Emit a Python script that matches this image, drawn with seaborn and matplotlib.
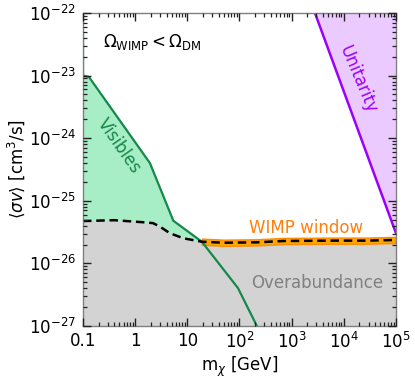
import numpy as np
import pandas as pd
import matplotlib
matplotlib.use("Agg")
import matplotlib.pyplot as plt
import matplotlib.ticker as mticker
import seaborn as sns

# ---- data ----
vis_m = [0.1, 0.1, 0.13, 1.92, 5.4, 19.0, 93.5, 216.0]
vis_sv = [4.5e-23, 1.0e-23, 9.5e-24, 4.0e-25, 4.8e-26, 2.22e-26, 4.05e-27, 1.0e-27]

relic_m = [0.1, 0.4, 1.4, 2.2, 3.0, 4.65, 8.4, 19.0, 50.0, 214.0, 690.0, 6300.0, 27000.0, 1e5]
relic_sv = [4.75e-26, 4.9e-26, 4.55e-26, 4.4e-26, 3.86e-26, 3.03e-26, 2.52e-26,
            2.22e-26, 2.14e-26, 2.17e-26, 2.28e-26, 2.31e-26, 2.31e-26, 2.37e-26]

unit_m = [2800.0, 1e5]
unit_sv = [1e-22, 3.06e-26]

wimp_start = 19.0
band_factor = 1.12

x_ticks = [0.1, 1, 10, 1e2, 1e3, 1e4, 1e5]
x_ticklabels = ["0.1", "1", "10", r"$10^2$", r"$10^3$", r"$10^4$", r"$10^5$"]
y_ticks = [1e-27, 1e-26, 1e-25, 1e-24, 1e-23, 1e-22]
y_ticklabels = [r"$10^{-27}$", r"$10^{-26}$", r"$10^{-25}$", r"$10^{-24}$", r"$10^{-23}$", r"$10^{-22}$"]

# ---- style (plain matplotlib defaults, seaborn for drawing) ----
plt.rcParams.update({
    "font.family": ["DejaVu Sans"],
    "mathtext.fontset": "dejavusans",
    "xtick.direction": "in", "ytick.direction": "in",
    "xtick.top": True, "ytick.right": True,
    "xtick.major.size": 6, "ytick.major.size": 6,
    "xtick.minor.size": 3, "ytick.minor.size": 3,
    "xtick.major.width": 1.0, "ytick.major.width": 1.0,
    "xtick.minor.width": 0.9, "ytick.minor.width": 0.9,
    "xtick.color": "#222222", "ytick.color": "#222222",
    "xtick.labelcolor": "black", "ytick.labelcolor": "black",
    "xtick.labelsize": 12, "ytick.labelsize": 12,
    "xtick.major.pad": 4, "ytick.major.pad": 5,
    "axes.axisbelow": False,
})

fig = plt.figure(figsize=(4.15, 3.8), dpi=100)
ax = fig.add_axes([0.2, 0.142, 0.754, 0.824])
ax.set_xscale("log")
ax.set_yscale("log")

green_line = "#15884a"
green_fill = "#a7edc5"
purple_line = "#9a00ff"
purple_fill = "#ebcbff"
orange_fill = "#ffa500"
orange_edge = "#ff8c00"
orange_text = "#ff7f0e"

vis = pd.DataFrame({"m": vis_m, "sv": vis_sv})
relic = pd.DataFrame({"m": relic_m, "sv": relic_sv})
unit = pd.DataFrame({"m": unit_m, "sv": unit_sv})

ax.fill_between(vis["m"], vis["sv"], 1e-27, color=green_fill, lw=0, zorder=1)
ax.fill_between(relic["m"], relic["sv"], 1e-27, color="#d3d3d3", lw=0, zorder=1.1)
ax.fill_between(unit["m"], unit["sv"], 1e-22, color=purple_fill, lw=0, zorder=1)

w = relic[relic["m"] >= wimp_start]
ax.fill_between(w["m"], w["sv"] / band_factor, w["sv"] * band_factor,
                facecolor=orange_fill, edgecolor=orange_edge, lw=1.0, zorder=1.2)

sns.lineplot(data=vis, x="m", y="sv", sort=False, estimator=None, color=green_line,
             lw=1.6, ax=ax, zorder=1.5)
sns.lineplot(data=unit, x="m", y="sv", sort=False, estimator=None, color=purple_line,
             lw=1.8, ax=ax, zorder=1.5)
sns.lineplot(data=relic, x="m", y="sv", sort=False, estimator=None, color="black",
             lw=1.8, ax=ax, zorder=1.8, linestyle=(0, (3.4, 1.9)))

ax.set_xlim(0.1, 1e5)
ax.set_ylim(1e-27, 1e-22)
ax.set_xticks(x_ticks, x_ticklabels)
ax.set_yticks(y_ticks, y_ticklabels)
ax.xaxis.set_minor_locator(mticker.LogLocator(base=10, subs=np.arange(2, 10), numticks=20))
ax.yaxis.set_minor_locator(mticker.LogLocator(base=10, subs=np.arange(2, 10), numticks=20))
ax.xaxis.set_minor_formatter(mticker.NullFormatter())
ax.yaxis.set_minor_formatter(mticker.NullFormatter())
ax.tick_params(which="both", direction="in", top=True, right=True, bottom=True, left=True)
for s in ax.spines.values():
    s.set_color("#808080")
    s.set_linewidth(1.0)

ax.set_xlabel(r"$\mathrm{m}_{\chi}$ [GeV]", fontsize=12, labelpad=2)
ax.set_ylabel(r"$\langle\sigma v\rangle$ [cm$^3$/s]", fontsize=12, labelpad=1)

ax.text(0.064, 0.907, r"$\Omega_{\mathrm{WIMP}} < \Omega_{\mathrm{DM}}$", transform=ax.transAxes,
        fontsize=12, ha="left", va="center", color="black")
ax.text(0.115, 0.575, "Visibles", transform=ax.transAxes, fontsize=12, color=green_line,
        rotation=-55, ha="center", va="center", rotation_mode="anchor")
ax.text(0.877, 0.786, "Unitarity", transform=ax.transAxes, fontsize=12, color=purple_line,
        rotation=-67, ha="center", va="center", rotation_mode="anchor")
ax.text(0.714, 0.312, "WIMP window", transform=ax.transAxes, fontsize=12, color=orange_text,
        ha="center", va="center")
ax.text(0.750, 0.138, "Overabundance", transform=ax.transAxes, fontsize=12, color="#808080",
        ha="center", va="center")

leg = ax.get_legend()
if leg is not None:
    leg.remove()
fig.savefig("out.png", dpi=100)
